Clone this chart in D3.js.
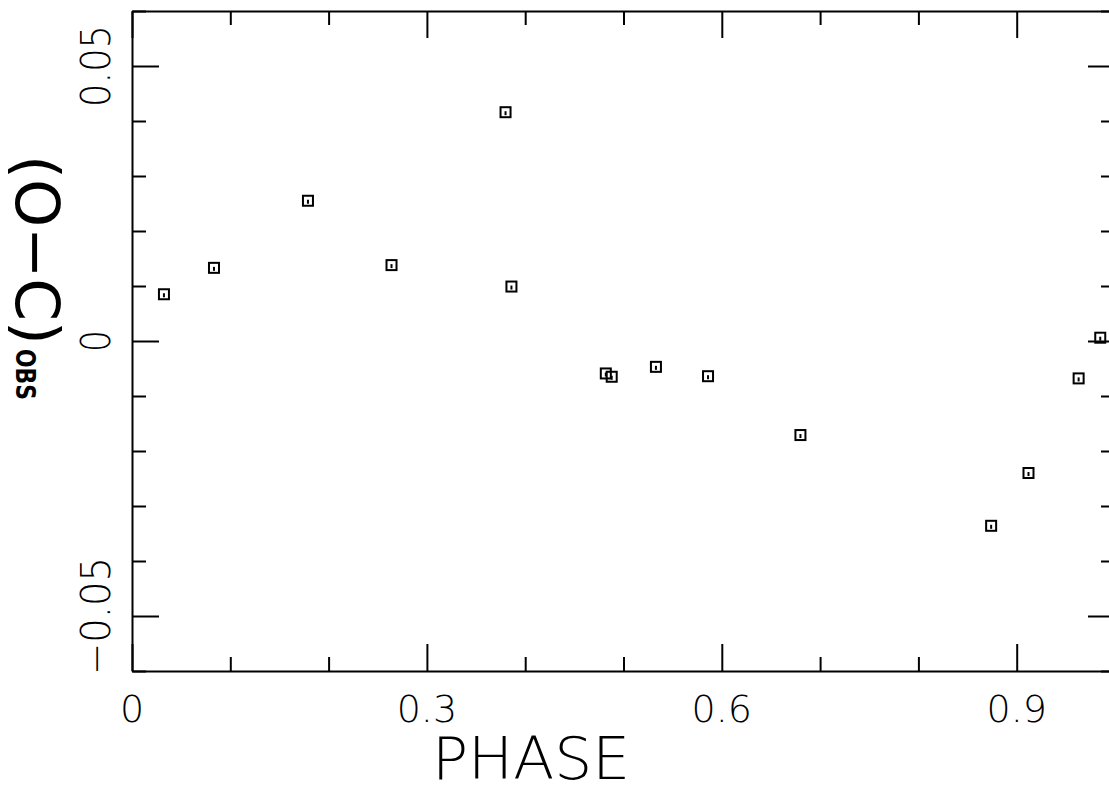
<!DOCTYPE html>
<html>
<head>
<meta charset="utf-8">
<script src="https://cdn.jsdelivr.net/npm/d3@7"></script>
<style>
  body { margin: 0; background: #fff; }
  svg { display: block; }
  .lbl { font-family: "DejaVu Sans", sans-serif; font-weight: 200; fill: #000; }
</style>
</head>
<body>
<div class="chart"></div>
<script>
var width = 1109,
    height = 793;

var phase = [0.0325, 0.0834, 0.179, 0.264, 0.380, 0.386, 0.482, 0.488, 0.533, 0.586, 0.680, 0.874, 0.912, 0.963, 0.985];
var oc    = [0.0085, 0.0133, 0.0255, 0.0138, 0.0416, 0.0099, -0.0059, -0.0065, -0.0047, -0.0064, -0.0171, -0.0336, -0.0240, -0.0068, 0.0006];

// tick marks
var phaseTicks = [0, 0.1, 0.2, 0.3, 0.4, 0.5, 0.6, 0.7, 0.8, 0.9, 1.0];
var phaseMajor = [0, 0.3, 0.6, 0.9];
var phaseLabels = ["0", "0.3", "0.6", "0.9"];
var ocTicks = [-0.06, -0.05, -0.04, -0.03, -0.02, -0.01, 0, 0.01, 0.02, 0.03, 0.04, 0.05, 0.06];
var ocMajor = [-0.05, 0, 0.05];
var ocLabels = ["\u22120.05", "0", "0.05"];

var x = d3.scaleLinear().domain([0, 1]).range([132, 1115]);
var y = d3.scaleLinear().domain([-0.06, 0.06]).range([671, 11]);

var svg = d3.select(".chart").append("svg")
            .attr("width", width)
            .attr("height", height);

function isMajor(list, v) {
    return list.some(function(m) { return Math.abs(m - v) < 1e-9; });
}

// axes, ticks pointing inward; majors longer
function styleAxis(g, majors, len) {
    g.select(".domain").attr("stroke", "#000").attr("stroke-width", 2);
    g.selectAll(".tick line")
     .attr("stroke", "#000")
     .attr("stroke-width", 2);
    g.selectAll(".tick").each(function(d) {
        var ln = d3.select(this).select("line");
        var k = isMajor(majors, d) ? 27 : 14;
        if (ln.attr("y2") !== null && +ln.attr("y2") !== 0) ln.attr("y2", len * k);
        if (ln.attr("x2") !== null && +ln.attr("x2") !== 0) ln.attr("x2", len * k);
    });
    g.selectAll(".tick text").remove();
}

svg.append("g")
   .attr("transform", "translate(0," + y(-0.06) + ")")
   .call(d3.axisBottom(x).tickValues(phaseTicks).tickSize(-14).tickSizeOuter(0))
   .call(styleAxis, phaseMajor, -1);

svg.append("g")
   .attr("transform", "translate(0," + y(0.06) + ")")
   .call(d3.axisTop(x).tickValues(phaseTicks).tickSize(-14).tickSizeOuter(0))
   .call(styleAxis, phaseMajor, 1);

svg.append("g")
   .attr("transform", "translate(" + x(0) + ",0)")
   .call(d3.axisLeft(y).tickValues(ocTicks).tickSize(-14).tickSizeOuter(0))
   .call(styleAxis, ocMajor, 1);

svg.append("g")
   .attr("transform", "translate(" + x(1) + ",0)")
   .call(d3.axisRight(y).tickValues(ocTicks).tickSize(-14).tickSizeOuter(0))
   .call(styleAxis, ocMajor, -1);

// tick labels
svg.selectAll(".xlab")
   .data(phaseMajor)
   .enter().append("text")
   .attr("class", "lbl xlab")
   .attr("x", function(d) { return x(d); })
   .attr("y", 722)
   .attr("text-anchor", "middle")
   .style("font-size", "38px")
   .text(function(d, i) { return phaseLabels[i]; });

var ylabLen = [118, 22, 82];
svg.selectAll(".ylab")
   .data(ocMajor)
   .enter().append("text")
   .attr("class", "lbl ylab")
   .attr("transform", function(d) { return "translate(110," + y(d) + ") rotate(-90)"; })
   .attr("text-anchor", "middle")
   .attr("textLength", function(d, i) { return ylabLen[i]; })
   .attr("lengthAdjust", "spacingAndGlyphs")
   .style("font-size", "41px")
   .text(function(d, i) { return ocLabels[i]; });

// axis titles
svg.append("text")
   .attr("class", "lbl")
   .attr("x", 531)
   .attr("y", 779)
   .attr("text-anchor", "middle")
   .attr("textLength", 198)
   .attr("lengthAdjust", "spacingAndGlyphs")
   .style("font-size", "58px")
   .text("PHASE");

svg.append("text")
   .attr("class", "lbl")
   .attr("transform", "translate(16,155) rotate(90)")
   .attr("textLength", 190)
   .attr("lengthAdjust", "spacingAndGlyphs")
   .style("font-size", "60px")
   .style("font-weight", 400)
   .text("(O\u2212C)");

svg.append("text")
   .attr("class", "lbl")
   .attr("transform", "translate(16,349) rotate(90)")
   .attr("textLength", 51)
   .attr("lengthAdjust", "spacingAndGlyphs")
   .style("font-size", "26px")
   .style("font-weight", 700)
   .text("OBS");

// data markers: open squares with a small centre mark
var pts = phase.map(function(p, i) { return [p, oc[i]]; });

var mk = svg.selectAll(".mk")
   .data(pts)
   .enter().append("g")
   .attr("class", "mk")
   .attr("transform", function(d) { return "translate(" + x(d[0]) + "," + y(d[1]) + ")"; });

mk.append("rect")
  .attr("x", -5).attr("y", -5)
  .attr("width", 10).attr("height", 10)
  .attr("fill", "none")
  .attr("stroke", "#000")
  .attr("stroke-width", 2);

mk.append("rect")
  .attr("x", -1).attr("y", -1)
  .attr("width", 2).attr("height", 4)
  .attr("fill", "#000");
</script>
</body>
</html>
